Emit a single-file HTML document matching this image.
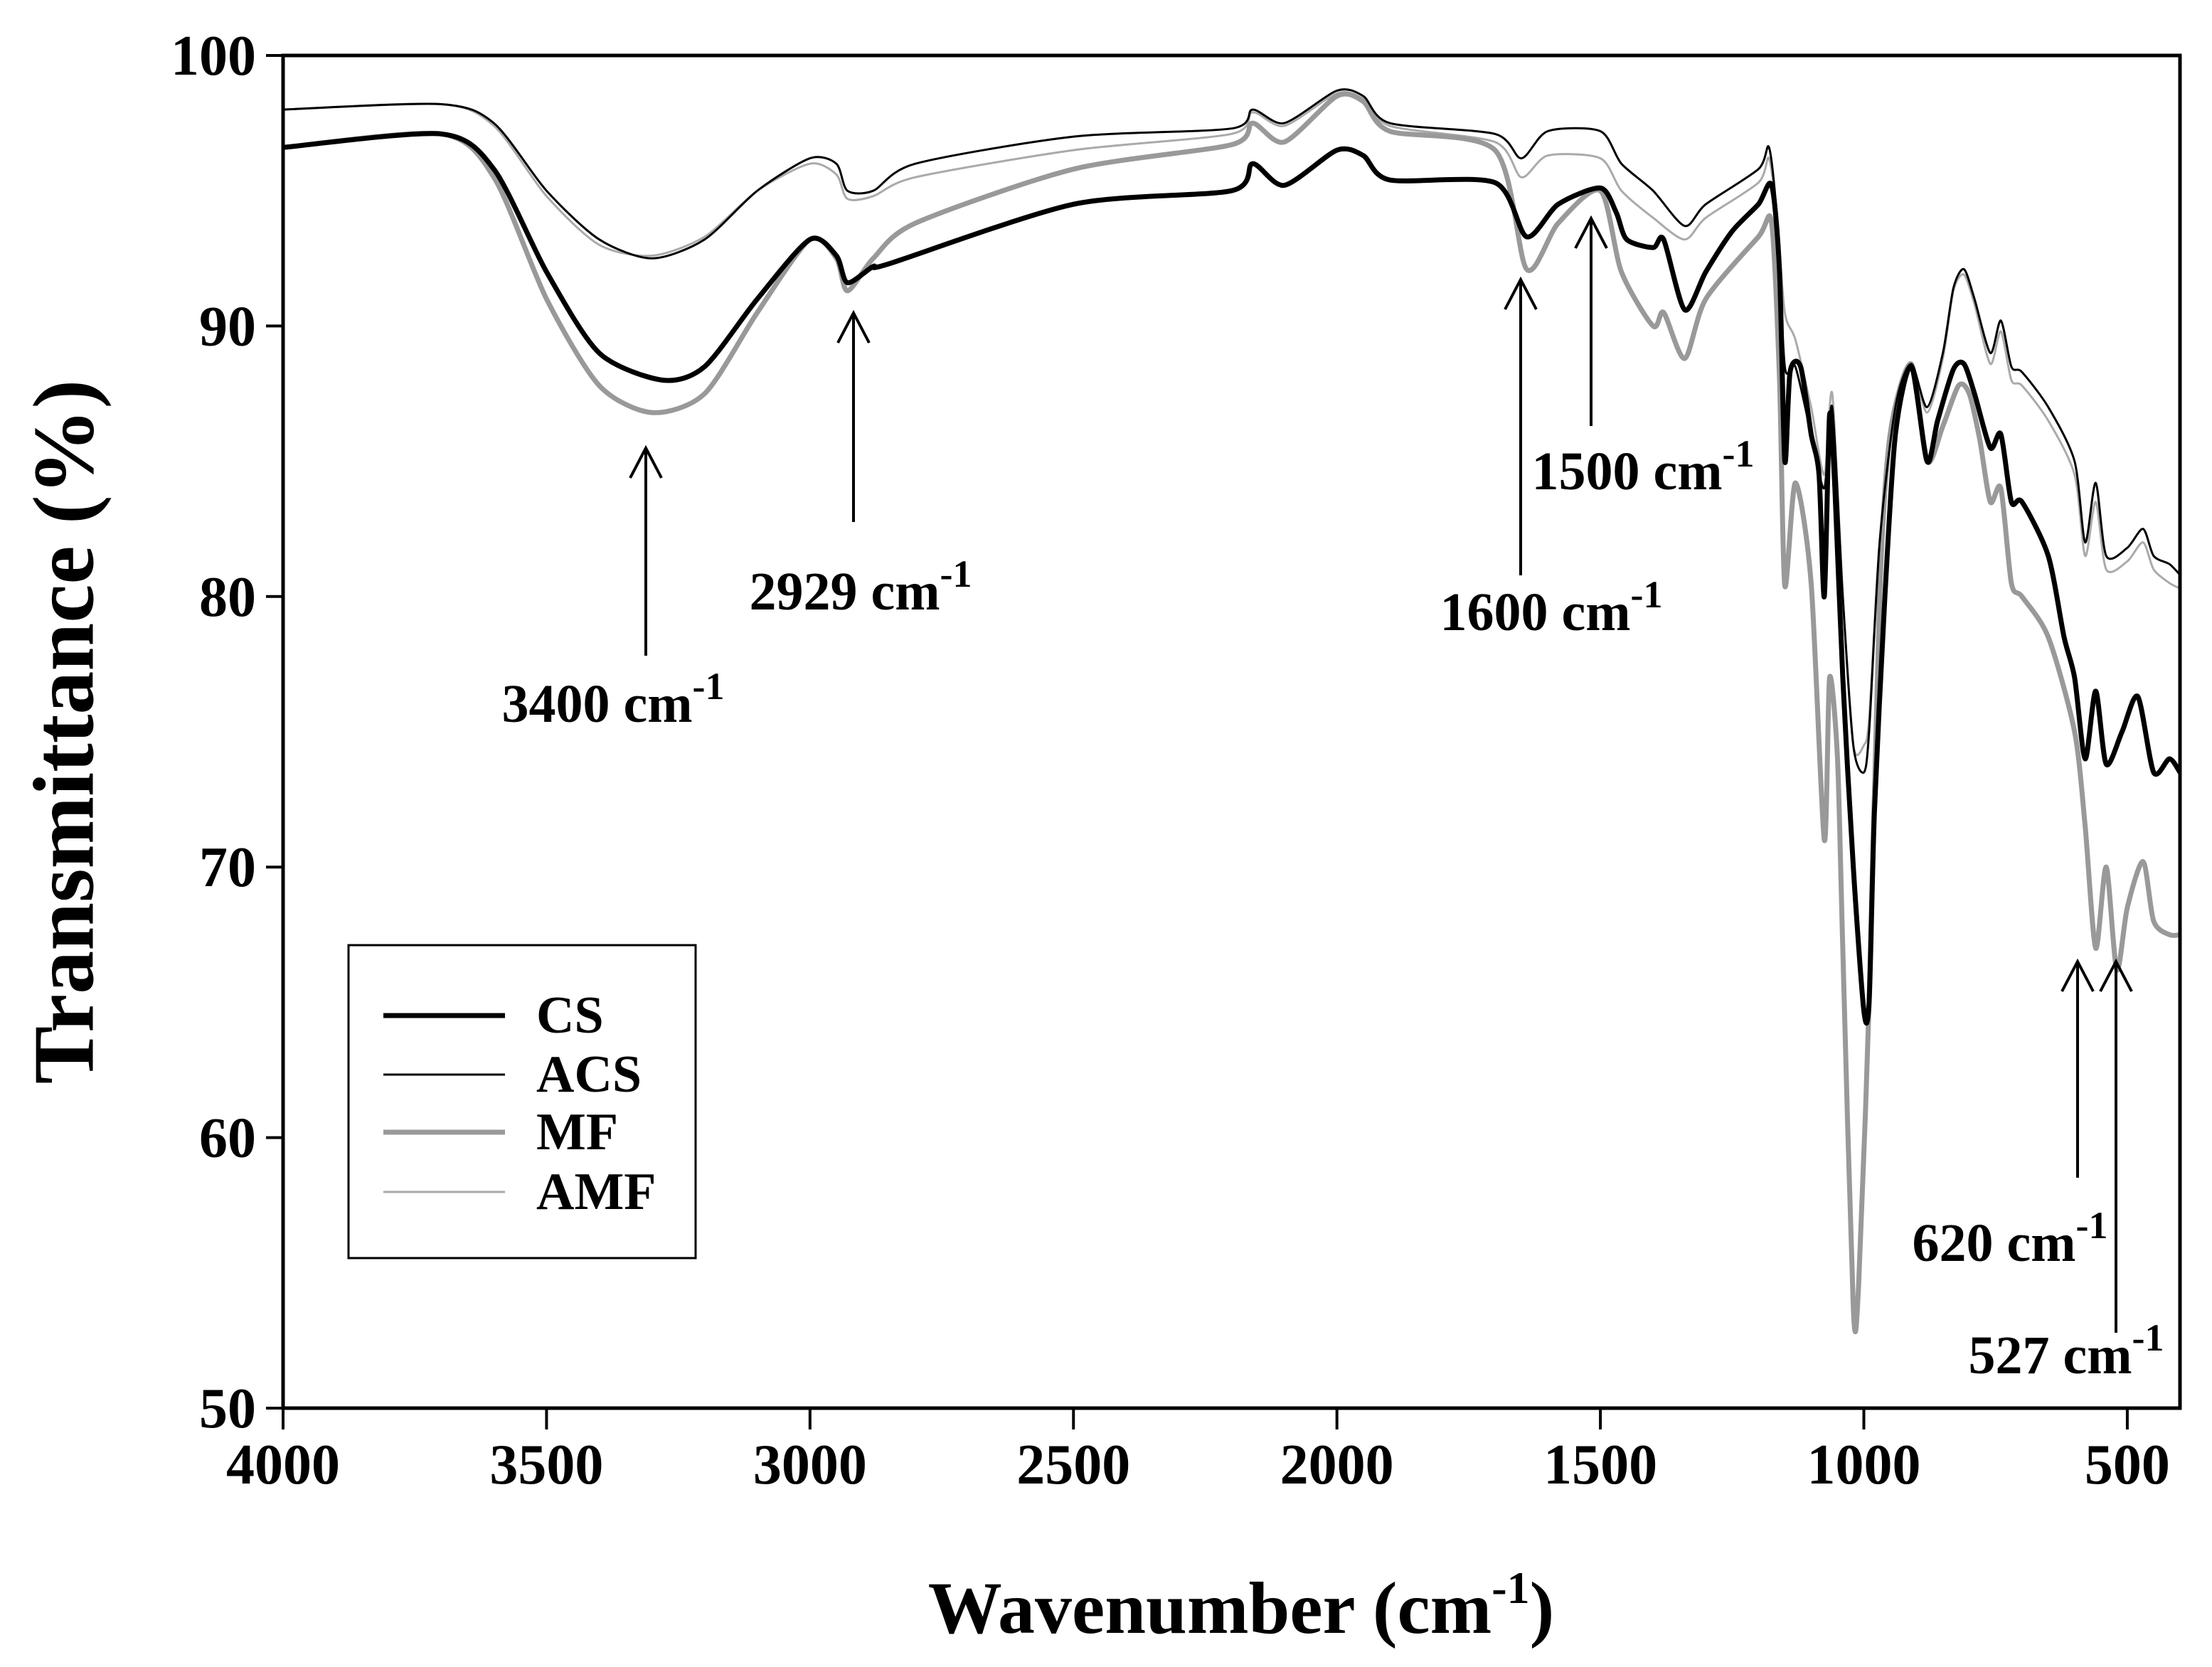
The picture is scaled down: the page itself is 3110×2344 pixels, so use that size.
<!DOCTYPE html>
<html><head><meta charset="utf-8">
<style>
html,body{margin:0;padding:0;background:#fff;}
svg{display:block;font-family:"Liberation Serif",serif;font-weight:bold;}
</style></head>
<body>
<svg id="chart" width="3110" height="2344" viewBox="0 0 3110 2344" xmlns="http://www.w3.org/2000/svg">
<rect width="3110" height="2344" fill="#fff"/>
<g id="series"></g>
<g id="axes"></g>
<g id="annot"></g>
<g id="legend">
<rect x="490" y="1329" width="488" height="440" fill="#fff" stroke="#000" stroke-width="3"/>
<line x1="539" y1="1428" x2="710" y2="1428" stroke="#000" stroke-width="7"/>
<text x="754" y="1452" font-size="74">CS</text>
<line x1="539" y1="1511" x2="710" y2="1511" stroke="#000" stroke-width="3"/>
<text x="754" y="1535" font-size="74">ACS</text>
<line x1="539" y1="1592" x2="710" y2="1592" stroke="#999" stroke-width="7"/>
<text x="754" y="1616" font-size="74">MF</text>
<line x1="539" y1="1676" x2="710" y2="1676" stroke="#aaa" stroke-width="3"/>
<text x="754" y="1700" font-size="74">AMF</text>
</g>
<text x="90" y="1029" font-size="122" text-anchor="middle" dominant-baseline="central" transform="rotate(-90 90 1029)">Transmittance (%)</text>
<text x="1745" y="2296" font-size="104" text-anchor="middle">Wavenumber (cm<tspan dy="-42" font-size="64">-1</tspan><tspan dy="42">)</tspan></text>
</svg>
<script>
const wnCS=[4000,3700,3600,3500,3400,3280,3200,3100,3000,2950,2929,2880,2850,2500,2200,2160,2100,2000,1950,1900,1700,1640,1580,1500,1470,1450,1400,1380,1340,1300,1250,1200,1175,1160,1150,1140,1120,1100,1085,1075,1065,1055,1040,1020,1000,990,980,960,940,910,880,860,830,810,790,760,740,720,700,650,620,600,580,560,540,510,480,450,420,400];
const tCS=[96.6,97.1,95.8,92,89,88,88.5,91,93.2,92.6,91.6,92.2,92.3,94.5,95,96,95.2,96.5,96.3,95.4,95.3,93.3,94.5,95.1,94.2,93.2,92.9,93.2,90.6,92,93.5,94.5,95.2,92,85,88.3,88.5,86,84.5,80,86.7,84,77,70,64.7,65,72,80,86,88.5,85,86.5,88.4,88.6,87.5,85.5,86,83.5,83.5,81.5,78.5,77,74,76.5,73.8,75,76.3,73.5,74,73.5];
const wnACS=[4000,3700,3600,3500,3400,3300,3200,3100,3000,2950,2929,2880,2800,2500,2200,2160,2100,2000,1950,1900,1700,1650,1600,1500,1460,1400,1340,1300,1200,1180,1165,1150,1130,1100,1075,1060,1040,1020,1000,990,970,940,910,880,850,830,810,790,760,740,720,700,650,600,580,560,540,500,470,450,420,400];
const tACS=[98,98.2,97.5,95,93.2,92.5,93.2,95,96.2,96,95,95,96,97,97.3,98,97.5,98.7,98.5,97.5,97.1,96.2,97.2,97.2,96,95,93.7,94.5,95.8,96.6,94,88.5,88.5,86,84,87,80,74.5,73.5,75,82,87,88.6,87,89,91.4,92.1,91,89,90.2,88.5,88.3,87,85,82,84.2,81.5,81.8,82.5,81.5,81.2,80.8];
const wnMF=[4000,3700,3600,3500,3400,3300,3200,3100,3000,2950,2929,2880,2800,2500,2200,2160,2100,2000,1950,1900,1700,1640,1580,1500,1460,1400,1380,1340,1300,1200,1175,1160,1150,1130,1100,1075,1065,1050,1040,1020,1010,990,970,950,910,880,850,820,800,780,760,740,720,700,650,600,580,560,540,520,500,470,450,420,400];
const tMF=[96.6,97.1,95.5,91,87.8,86.8,87.5,90.5,93.2,92.5,91.3,92.5,93.8,95.8,96.7,97.5,96.8,98.5,98.3,97.2,96.5,92.1,93.8,95,92,90,90.5,88.8,91,93.3,93.8,88,80.4,84.2,80.5,71,77,74,67,53.7,54.5,65,80,86,88.6,85,86.3,87.8,87.5,85.8,83.5,84,80.5,80,78.5,75,71.5,67,70,66.2,68.5,70.2,68,67.5,67.5];
const wnAMF=[4000,3700,3600,3500,3400,3300,3200,3100,3000,2950,2929,2880,2800,2500,2200,2160,2100,2000,1950,1900,1700,1650,1600,1500,1460,1400,1340,1300,1200,1180,1165,1150,1130,1100,1075,1060,1040,1020,1000,990,970,940,910,880,850,830,810,790,760,740,720,700,650,600,580,560,540,500,470,450,420,400];
const tAMF=[98,98.2,97.4,94.8,93,92.6,93.3,95,96,95.6,94.7,94.8,95.5,96.5,97.1,97.9,97.4,98.6,98.4,97.4,96.8,95.5,96.3,96.2,95,94,93.2,94,95.3,96.2,94,90.5,89.5,87,84.5,87.5,80,74.5,74.5,75.5,82,87,88.6,86.8,88.8,91.3,91.9,90.8,88.6,89.8,88,87.8,86.5,84.5,81.5,83.5,81,81.3,82,81,80.5,80.3];
const xTicks=[4000,3500,3000,2500,2000,1500,1000,500];
const yTicks=[50,60,70,80,90,100];

const X0=398,X1=3065,Y0=78,Y1=1980;
function xs(w){return X0+(4000-w)/(4000-400)*(X1-X0);}
function ys(t){return Y1-(t-50)/50*(Y1-Y0);}
const NS='http://www.w3.org/2000/svg';
function mk(tag,attrs,parent){const e=document.createElementNS(NS,tag);for(const k in attrs)e.setAttribute(k,attrs[k]);parent.appendChild(e);return e;}
const ser=document.getElementById('series');
function drawLine(wn,t,color,w,name){
  const P=wn.map((v,i)=>[xs(v),ys(t[i])]);
  let d='M'+P[0][0].toFixed(1)+' '+P[0][1].toFixed(1);
  for(let i=0;i<P.length-1;i++){
    const p0=P[Math.max(0,i-1)],p1=P[i],p2=P[i+1],p3=P[Math.min(P.length-1,i+2)];
    const k=1/6*0.8;
    const c1=[p1[0]+(p2[0]-p0[0])*k,p1[1]+(p2[1]-p0[1])*k];
    const c2=[p2[0]-(p3[0]-p1[0])*k,p2[1]-(p3[1]-p1[1])*k];
    d+=` C${c1[0].toFixed(1)} ${c1[1].toFixed(1)} ${c2[0].toFixed(1)} ${c2[1].toFixed(1)} ${p2[0].toFixed(1)} ${p2[1].toFixed(1)}`;
  }
  const p=mk('path',{d:d,fill:'none',stroke:color,'stroke-width':w,'stroke-linejoin':'round'},ser);
  
  
}
drawLine(wnAMF,tAMF,'#aaa',3,'series-amf');
drawLine(wnMF,tMF,'#999',7,'series-mf');
drawLine(wnACS,tACS,'#000',3,'series-acs');
drawLine(wnCS,tCS,'#000',7,'series-cs');

const ax=document.getElementById('axes');
const frame=mk('rect',{x:X0,y:Y0,width:X1-X0,height:Y1-Y0,fill:'none',stroke:'#000','stroke-width':5},ax);


xTicks.forEach(v=>{
  const x=xs(v);
  const tk=mk('line',{x1:x,y1:Y1,x2:x,y2:Y1+30,stroke:'#000','stroke-width':4},ax);
  
  
  const tx=mk('text',{x:x,y:Y1+106,'font-size':80,'text-anchor':'middle'},ax);
  tx.textContent=v;
  
  
});
yTicks.forEach(v=>{
  const y=ys(v);
  const tk=mk('line',{x1:X0-24,y1:y,x2:X0,y2:y,stroke:'#000','stroke-width':4},ax);
  
  
  const tx=mk('text',{x:X0-38,y:y+27,'font-size':80,'text-anchor':'end'},ax);
  tx.textContent=v;
  
  
});

const annLabels=['3400','2929','1600','1500','620','527'];
const an=document.getElementById('annot');
const arrows=[[908,922,630],[1200,734,440],[2138,809,393],[2237,599,307],[2921,1656,1352],[2975,1874,1352]];
const texts=[[862,1015],[1210,857],[2181,886],[2310,688],[2826,1773],[2905,1931]];
arrows.forEach((a,i)=>{
  const g=mk('g',{},an);
  
  
  mk('line',{x1:a[0],y1:a[1],x2:a[0],y2:a[2],stroke:'#000','stroke-width':4},g);
  mk('path',{d:`M${a[0]-22} ${a[2]+42} L${a[0]} ${a[2]} L${a[0]+22} ${a[2]+42}`,fill:'none',stroke:'#000','stroke-width':4},g);
  const t=mk('text',{x:texts[i][0],y:texts[i][1],'font-size':76,'text-anchor':'middle'},an);
  t.innerHTML=annLabels[i]+' cm<tspan dy="-32" font-size="54">-1</tspan>';
  
  
});
</script>
</body></html>
